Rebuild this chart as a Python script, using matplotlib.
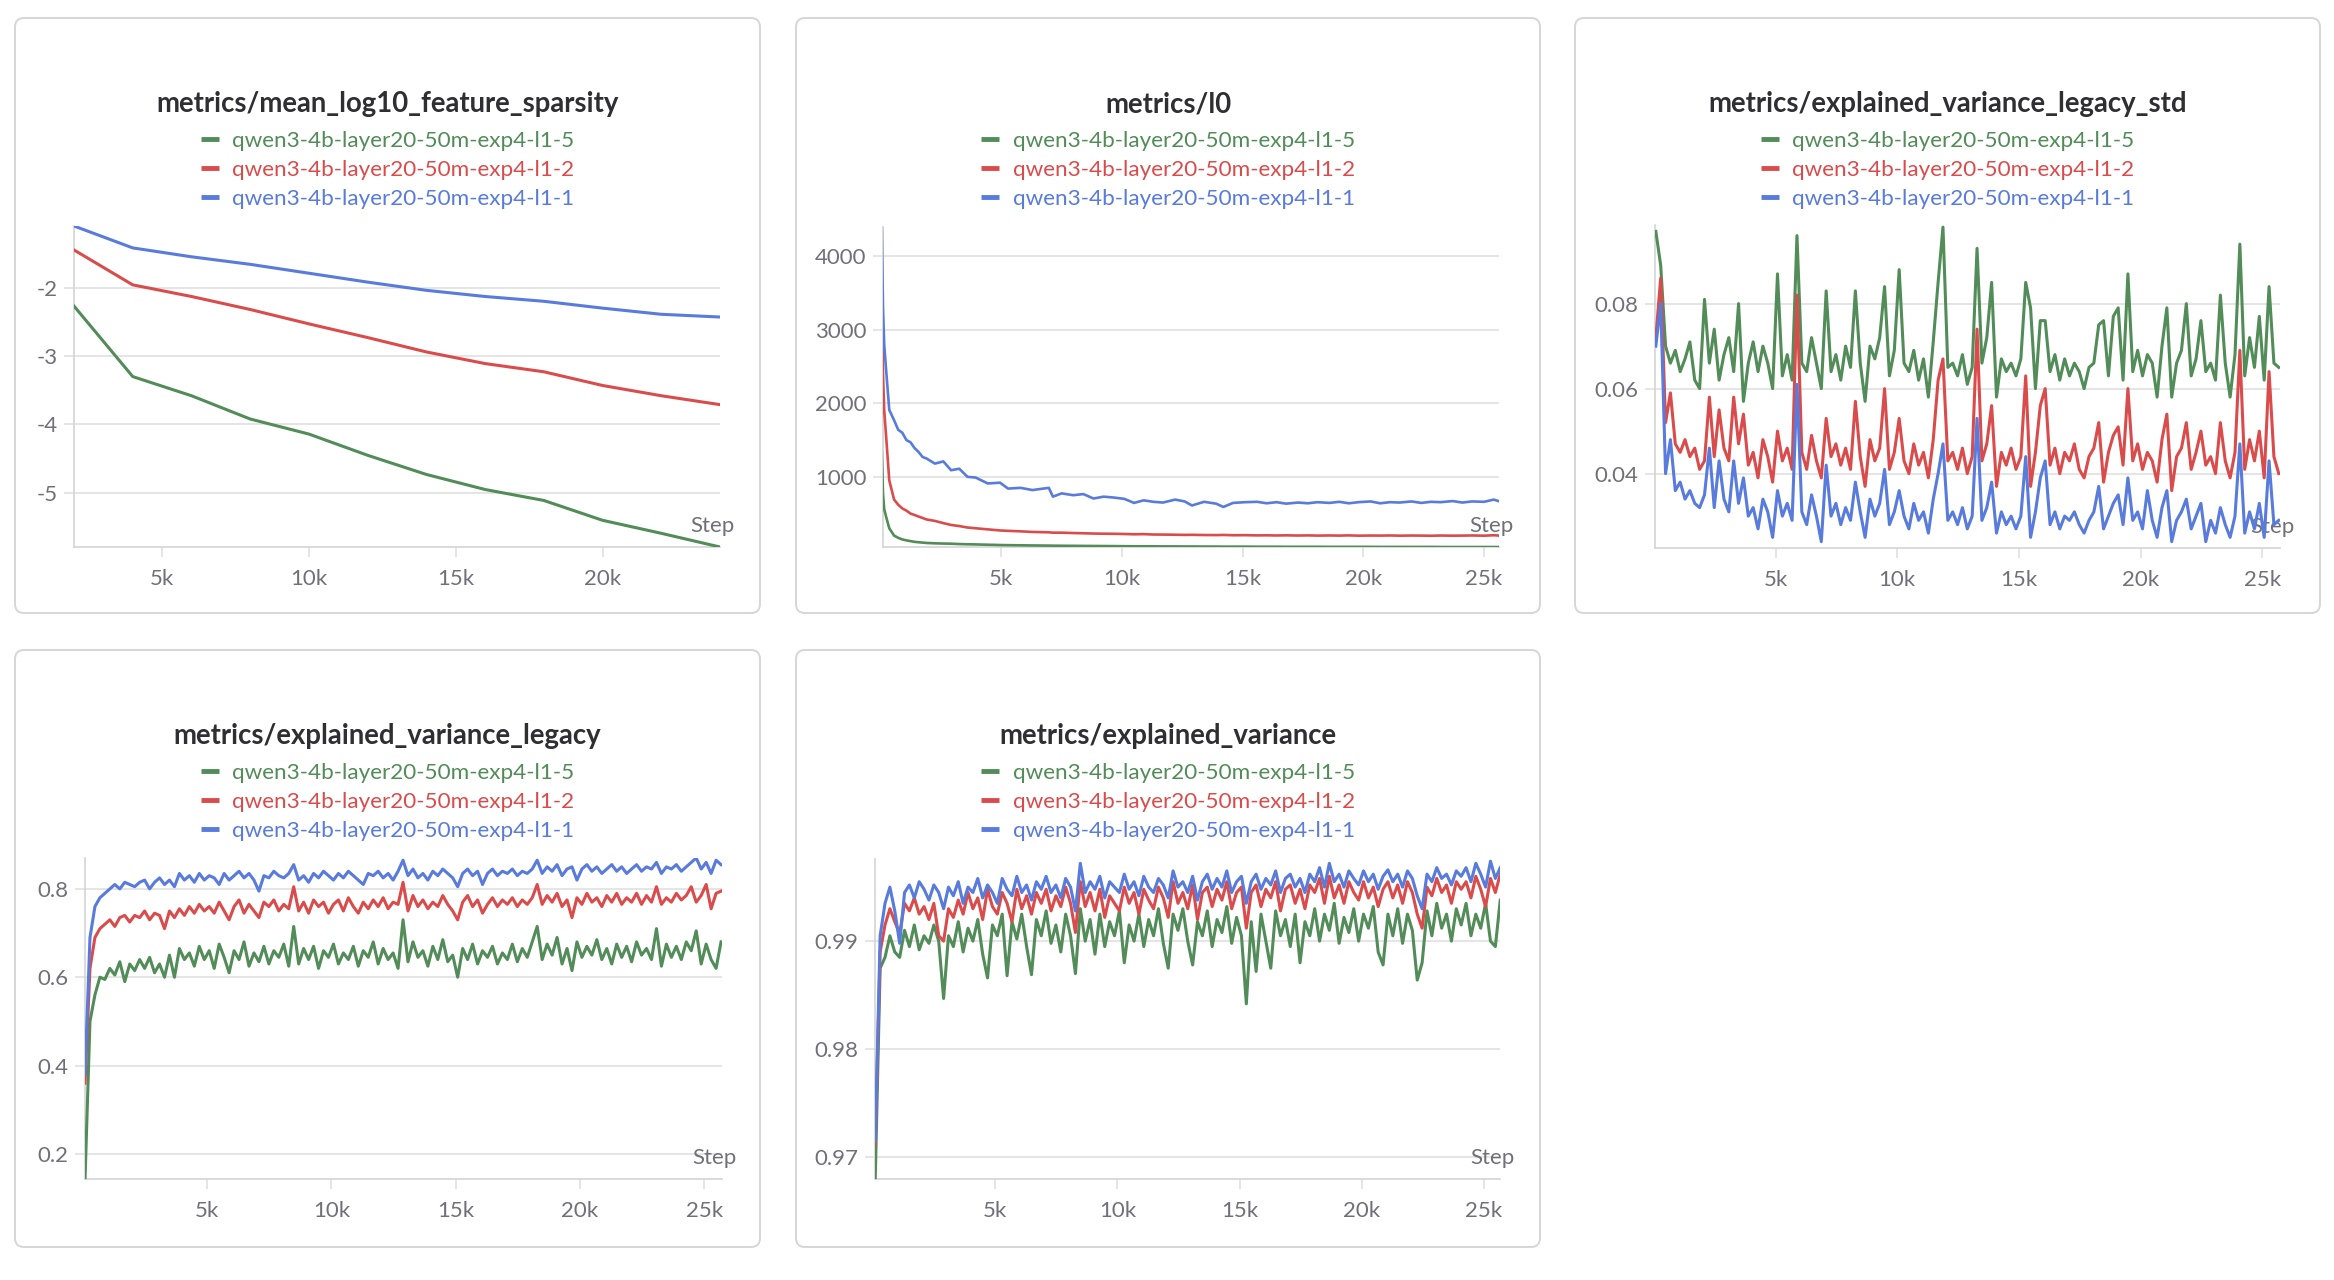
import numpy as np
import matplotlib
matplotlib.use("Agg")
import matplotlib.pyplot as plt
from matplotlib.patches import FancyBboxPatch
from matplotlib.lines import Line2D
from matplotlib.ticker import FixedLocator, FuncFormatter, FormatStrFormatter

plt.rcParams['font.family'] = ['Lato', 'DejaVu Sans']
plt.rcParams['axes.unicode_minus'] = False

W, H = 2334, 1280

# runs (legend order = draw order)
run_names = ["qwen3-4b-layer20-50m-exp4-l1-5",
             "qwen3-4b-layer20-50m-exp4-l1-2",
             "qwen3-4b-layer20-50m-exp4-l1-1"]
run_colors = ["#528c58", "#da4c4c", "#587bdc"]

# --- metrics/mean_log10_feature_sparsity ---
sparsity_steps = [2000, 4000, 6000, 8000, 10000, 12000, 14000, 16000, 18000, 20000, 22000, 24000]
sparsity_l1_5 = [-2.27, -3.30, -3.58, -3.92, -4.14, -4.45, -4.73, -4.95, -5.11, -5.40, -5.59, -5.79]
sparsity_l1_2 = [-1.45, -1.96, -2.13, -2.32, -2.53, -2.73, -2.94, -3.11, -3.23, -3.43, -3.58, -3.71]
sparsity_l1_1 = [-1.10, -1.42, -1.55, -1.66, -1.79, -1.92, -2.04, -2.13, -2.20, -2.30, -2.39, -2.43]

# --- metrics/l0 ---
l0_steps = [50, 100, 150, 230, 360, 560, 730, 900, 1070, 1240, 1410, 1570, 1740, 1900, 2250, 2600,
            2920, 3260, 3600, 3940, 4440, 4950, 5280, 5800, 6290, 6970, 7140, 7500, 7980, 8400,
            8820, 9240, 9660, 10100, 10500, 10900, 11300, 11700, 12200, 12600, 12900, 13400, 13900,
            14200, 14600, 15100, 15600, 16000, 16400, 16800, 17300, 17700, 18100, 18600, 19000,
            19400, 19800, 20300, 20700, 21100, 21500, 22000, 22400, 22800, 23200, 23700, 24100,
            24500, 25000, 25400, 25600]
l0_l1_1 = [4390, 3300, 2800, 2450, 1910, 1770, 1640, 1600, 1500, 1470, 1390, 1340, 1270, 1250, 1180,
           1210, 1090, 1110, 1000, 990, 910, 920, 840, 850, 820, 850, 730, 775, 750, 765, 705, 730,
           718, 700, 645, 680, 660, 650, 690, 665, 610, 660, 635, 590, 645, 655, 660, 640, 655, 635,
           650, 640, 655, 645, 660, 640, 655, 665, 640, 655, 650, 665, 645, 660, 655, 670, 650, 665,
           660, 690, 670]
l0_l1_2 = [3570, 2400, 1900, 1550, 950, 690, 620, 570, 540, 500, 480, 460, 440, 420, 400, 370, 345,
           330, 310, 300, 285, 270, 265, 258, 250, 245, 240, 240, 235, 232, 228, 226, 225, 222, 218,
           220, 215, 214, 212, 210, 211, 208, 207, 209, 205, 206, 203, 204, 202, 204, 201, 203, 200,
           202, 200, 203, 199, 201, 200, 202, 199, 201, 200, 198, 201, 199, 200, 202, 199, 205, 201]
l0_l1_5 = [1350, 770, 560, 455, 300, 200, 170, 148, 135, 125, 115, 110, 105, 100, 95, 92, 90, 85, 82,
           80, 76, 72, 70, 68, 66, 64, 63, 62, 61, 60, 59, 58, 57, 56, 55, 55, 54, 53, 53, 52, 52, 51,
           51, 50, 50, 50, 49, 49, 49, 48, 48, 48, 48, 47, 47, 47, 47, 47, 46, 46, 46, 46, 46, 46, 45,
           45, 45, 45, 45, 45, 45]

# logged every 200 steps for the noisy metrics
noisy_steps = np.arange(80, 25681, 200)

# --- metrics/explained_variance_legacy_std ---
ev_std_l1_5 = [0.097, 0.089, 0.070, 0.066, 0.069, 0.064, 0.067, 0.071, 0.062, 0.060, 0.081, 0.066,
               0.074, 0.062, 0.068, 0.072, 0.064, 0.080, 0.057, 0.066, 0.071, 0.064, 0.070, 0.066,
               0.060, 0.087, 0.063, 0.068, 0.062, 0.096, 0.066, 0.064, 0.072, 0.066, 0.060, 0.083,
               0.064, 0.068, 0.062, 0.070, 0.065, 0.083, 0.066, 0.057, 0.070, 0.067, 0.072, 0.084,
               0.063, 0.069, 0.088, 0.066, 0.064, 0.069, 0.062, 0.067, 0.058, 0.071, 0.085, 0.098,
               0.065, 0.066, 0.063, 0.068, 0.061, 0.065, 0.093, 0.066, 0.072, 0.085, 0.058, 0.067,
               0.064, 0.066, 0.063, 0.067, 0.085, 0.079, 0.060, 0.076, 0.076, 0.064, 0.068, 0.062,
               0.067, 0.063, 0.066, 0.064, 0.060, 0.065, 0.066, 0.075, 0.076, 0.063, 0.077, 0.079,
               0.062, 0.087, 0.064, 0.069, 0.063, 0.068, 0.066, 0.058, 0.070, 0.079, 0.058, 0.066,
               0.069, 0.080, 0.063, 0.067, 0.076, 0.064, 0.066, 0.062, 0.082, 0.066, 0.058, 0.068,
               0.094, 0.063, 0.072, 0.065, 0.077, 0.062, 0.084, 0.066, 0.065]
ev_std_l1_2 = [0.072, 0.086, 0.052, 0.059, 0.047, 0.045, 0.048, 0.044, 0.046, 0.041, 0.043, 0.058,
               0.044, 0.055, 0.046, 0.043, 0.058, 0.047, 0.054, 0.042, 0.045, 0.039, 0.048, 0.044,
               0.038, 0.050, 0.043, 0.046, 0.041, 0.082, 0.045, 0.041, 0.049, 0.043, 0.039, 0.053,
               0.044, 0.047, 0.042, 0.046, 0.041, 0.057, 0.044, 0.037, 0.048, 0.043, 0.046, 0.060,
               0.041, 0.045, 0.053, 0.043, 0.040, 0.047, 0.042, 0.045, 0.039, 0.048, 0.062, 0.067,
               0.043, 0.045, 0.041, 0.046, 0.040, 0.044, 0.074, 0.043, 0.047, 0.056, 0.037, 0.045,
               0.042, 0.046, 0.041, 0.044, 0.063, 0.037, 0.045, 0.056, 0.060, 0.042, 0.046, 0.040,
               0.045, 0.043, 0.047, 0.041, 0.039, 0.044, 0.046, 0.052, 0.038, 0.045, 0.049, 0.051,
               0.042, 0.060, 0.043, 0.047, 0.041, 0.045, 0.043, 0.038, 0.048, 0.054, 0.036, 0.044,
               0.046, 0.052, 0.041, 0.045, 0.050, 0.042, 0.044, 0.040, 0.052, 0.043, 0.039, 0.045,
               0.069, 0.041, 0.048, 0.043, 0.050, 0.039, 0.064, 0.044, 0.040]
ev_std_l1_1 = [0.070, 0.080, 0.040, 0.048, 0.036, 0.038, 0.034, 0.036, 0.033, 0.032, 0.035, 0.046,
               0.032, 0.043, 0.034, 0.031, 0.043, 0.033, 0.039, 0.030, 0.032, 0.027, 0.034, 0.031,
               0.025, 0.036, 0.030, 0.033, 0.029, 0.061, 0.031, 0.028, 0.035, 0.030, 0.024, 0.042,
               0.030, 0.033, 0.028, 0.032, 0.029, 0.038, 0.031, 0.025, 0.034, 0.030, 0.033, 0.041,
               0.028, 0.031, 0.036, 0.030, 0.027, 0.033, 0.029, 0.031, 0.026, 0.034, 0.040, 0.047,
               0.029, 0.031, 0.028, 0.032, 0.027, 0.030, 0.053, 0.029, 0.032, 0.038, 0.026, 0.031,
               0.028, 0.030, 0.027, 0.030, 0.044, 0.025, 0.031, 0.039, 0.043, 0.028, 0.031, 0.027,
               0.030, 0.029, 0.031, 0.028, 0.026, 0.029, 0.031, 0.037, 0.027, 0.030, 0.033, 0.035,
               0.028, 0.039, 0.029, 0.031, 0.027, 0.036, 0.029, 0.025, 0.032, 0.036, 0.024, 0.029,
               0.031, 0.034, 0.027, 0.030, 0.033, 0.024, 0.029, 0.026, 0.032, 0.028, 0.025, 0.030,
               0.047, 0.026, 0.031, 0.027, 0.033, 0.025, 0.043, 0.028, 0.029]

# --- metrics/explained_variance_legacy ---
ev_legacy_l1_5 = [0.14, 0.50, 0.56, 0.60, 0.595, 0.62, 0.605, 0.635, 0.59, 0.63, 0.615, 0.64, 0.62,
                  0.645, 0.61, 0.63, 0.60, 0.65, 0.60, 0.665, 0.64, 0.655, 0.625, 0.67, 0.64, 0.66,
                  0.62, 0.675, 0.645, 0.61, 0.66, 0.64, 0.68, 0.625, 0.655, 0.635, 0.67, 0.63, 0.66,
                  0.645, 0.675, 0.625, 0.715, 0.63, 0.665, 0.64, 0.67, 0.62, 0.66, 0.645, 0.675, 0.63,
                  0.655, 0.64, 0.67, 0.625, 0.66, 0.645, 0.68, 0.63, 0.665, 0.64, 0.655, 0.62, 0.73,
                  0.635, 0.68, 0.645, 0.66, 0.625, 0.67, 0.64, 0.685, 0.635, 0.65, 0.60, 0.665, 0.64,
                  0.675, 0.63, 0.66, 0.645, 0.67, 0.63, 0.655, 0.64, 0.675, 0.635, 0.665, 0.645, 0.68,
                  0.715, 0.64, 0.675, 0.65, 0.69, 0.63, 0.665, 0.615, 0.68, 0.645, 0.67, 0.65, 0.685,
                  0.64, 0.665, 0.63, 0.675, 0.645, 0.67, 0.635, 0.68, 0.65, 0.665, 0.64, 0.71, 0.625,
                  0.675, 0.645, 0.67, 0.64, 0.68, 0.66, 0.705, 0.63, 0.675, 0.64, 0.62, 0.68]
ev_legacy_l1_2 = [0.36, 0.62, 0.69, 0.71, 0.72, 0.73, 0.715, 0.735, 0.74, 0.725, 0.74, 0.735, 0.75,
                  0.73, 0.745, 0.74, 0.71, 0.75, 0.735, 0.755, 0.74, 0.76, 0.745, 0.765, 0.75, 0.76,
                  0.745, 0.77, 0.75, 0.73, 0.76, 0.775, 0.745, 0.765, 0.75, 0.735, 0.77, 0.76, 0.775,
                  0.75, 0.765, 0.755, 0.805, 0.75, 0.77, 0.745, 0.775, 0.76, 0.77, 0.745, 0.765, 0.775,
                  0.75, 0.78, 0.76, 0.745, 0.77, 0.755, 0.775, 0.76, 0.78, 0.755, 0.77, 0.765, 0.815,
                  0.75, 0.785, 0.76, 0.775, 0.755, 0.77, 0.76, 0.785, 0.765, 0.75, 0.73, 0.77, 0.785,
                  0.76, 0.775, 0.745, 0.765, 0.78, 0.76, 0.775, 0.765, 0.78, 0.76, 0.775, 0.765, 0.78,
                  0.81, 0.765, 0.785, 0.77, 0.79, 0.76, 0.775, 0.735, 0.78, 0.765, 0.79, 0.77, 0.78,
                  0.76, 0.785, 0.77, 0.79, 0.765, 0.78, 0.77, 0.79, 0.765, 0.785, 0.77, 0.805, 0.765,
                  0.78, 0.77, 0.79, 0.775, 0.785, 0.805, 0.77, 0.785, 0.81, 0.755, 0.79, 0.795]
ev_legacy_l1_1 = [0.38, 0.69, 0.76, 0.78, 0.79, 0.80, 0.81, 0.80, 0.815, 0.81, 0.805, 0.815, 0.82,
                  0.80, 0.815, 0.825, 0.81, 0.82, 0.805, 0.835, 0.82, 0.83, 0.815, 0.835, 0.82, 0.83,
                  0.825, 0.81, 0.835, 0.82, 0.83, 0.84, 0.825, 0.835, 0.82, 0.795, 0.83, 0.825, 0.84,
                  0.83, 0.825, 0.835, 0.855, 0.82, 0.83, 0.815, 0.835, 0.825, 0.84, 0.83, 0.82, 0.835,
                  0.825, 0.84, 0.83, 0.82, 0.81, 0.835, 0.83, 0.84, 0.825, 0.835, 0.82, 0.84, 0.865,
                  0.83, 0.845, 0.825, 0.835, 0.82, 0.84, 0.83, 0.845, 0.835, 0.825, 0.805, 0.835, 0.845,
                  0.83, 0.84, 0.81, 0.835, 0.845, 0.83, 0.84, 0.835, 0.845, 0.83, 0.84, 0.835, 0.845,
                  0.865, 0.835, 0.85, 0.84, 0.855, 0.83, 0.845, 0.85, 0.82, 0.845, 0.855, 0.84, 0.85,
                  0.835, 0.845, 0.855, 0.84, 0.85, 0.835, 0.845, 0.855, 0.84, 0.85, 0.845, 0.86, 0.835,
                  0.85, 0.845, 0.855, 0.84, 0.85, 0.86, 0.87, 0.845, 0.86, 0.835, 0.865, 0.855]

# --- metrics/explained_variance ---
ev_l1_5 = [0.9680, 0.9875, 0.9885, 0.9905, 0.9890, 0.9885, 0.9910, 0.9895, 0.9915, 0.9892, 0.9905,
           0.9898, 0.9915, 0.9900, 0.9847, 0.9905, 0.9895, 0.9918, 0.9890, 0.9912, 0.9900, 0.9920,
           0.9888, 0.9866, 0.9915, 0.9905, 0.9925, 0.9868, 0.9918, 0.9902, 0.9925, 0.9895, 0.9869,
           0.9920, 0.9905, 0.9928, 0.9898, 0.9915, 0.9890, 0.9925, 0.9905, 0.9870, 0.9930, 0.9900,
           0.9920, 0.9888, 0.9925, 0.9895, 0.9918, 0.9905, 0.9928, 0.9880, 0.9915, 0.9900, 0.9925,
           0.9895, 0.9920, 0.9905, 0.9930, 0.9898, 0.9875, 0.9925, 0.9910, 0.9930, 0.9900, 0.9878,
           0.9918, 0.9905, 0.9928, 0.9895, 0.9920, 0.9908, 0.9932, 0.9898, 0.9922, 0.9905, 0.9842,
           0.9918, 0.9872, 0.9925, 0.9900, 0.9875, 0.9928, 0.9905, 0.9920, 0.9895, 0.9925, 0.9880,
           0.9918, 0.9905, 0.9930, 0.9900, 0.9925, 0.9910, 0.9935, 0.9898, 0.9922, 0.9908, 0.9930,
           0.9900, 0.9925, 0.9912, 0.9932, 0.9890, 0.9878, 0.9925, 0.9905, 0.9930, 0.9898, 0.9925,
           0.9910, 0.9864, 0.9880, 0.9928, 0.9905, 0.9935, 0.9912, 0.9925, 0.9900, 0.9930, 0.9915,
           0.9935, 0.9905, 0.9925, 0.9912, 0.9935, 0.9900, 0.9895, 0.9938]
ev_l1_2 = [0.9712, 0.9890, 0.9915, 0.9930, 0.9918, 0.9907, 0.9935, 0.9928, 0.9940, 0.9925, 0.9932,
           0.9920, 0.9935, 0.9905, 0.9900, 0.9930, 0.9922, 0.9938, 0.9925, 0.9945, 0.9930, 0.9940,
           0.9920, 0.9948, 0.9932, 0.9925, 0.9945, 0.9935, 0.9918, 0.9948, 0.9930, 0.9942, 0.9925,
           0.9945, 0.9935, 0.9948, 0.9928, 0.9942, 0.9932, 0.9950, 0.9935, 0.9908, 0.9955, 0.9932,
           0.9945, 0.9928, 0.9948, 0.9922, 0.9942, 0.9935, 0.9928, 0.9950, 0.9935, 0.9945, 0.9925,
           0.9948, 0.9938, 0.9930, 0.9950, 0.9940, 0.9922, 0.9955, 0.9935, 0.9945, 0.9930, 0.9952,
           0.9920, 0.9945, 0.9950, 0.9932, 0.9948, 0.9938, 0.9955, 0.9930, 0.9945, 0.9950, 0.9912,
           0.9945, 0.9952, 0.9932, 0.9948, 0.9940, 0.9955, 0.9928, 0.9948, 0.9952, 0.9935, 0.9948,
           0.9930, 0.9952, 0.9945, 0.9958, 0.9935, 0.9960, 0.9940, 0.9952, 0.9935, 0.9955, 0.9945,
           0.9938, 0.9955, 0.9940, 0.9950, 0.9932, 0.9948, 0.9955, 0.9940, 0.9952, 0.9935, 0.9955,
           0.9945, 0.9925, 0.9912, 0.9950, 0.9942, 0.9958, 0.9945, 0.9952, 0.9935, 0.9955, 0.9948,
           0.9955, 0.9940, 0.9960, 0.9948, 0.9932, 0.9958, 0.9945, 0.9962]
ev_l1_1 = [0.9715, 0.9905, 0.9935, 0.9950, 0.9928, 0.9898, 0.9945, 0.9952, 0.9940, 0.9955, 0.9948,
           0.9938, 0.9952, 0.9945, 0.9930, 0.9950, 0.9942, 0.9955, 0.9935, 0.9950, 0.9945, 0.9958,
           0.9940, 0.9952, 0.9945, 0.9935, 0.9958, 0.9948, 0.9942, 0.9960, 0.9945, 0.9952, 0.9938,
           0.9955, 0.9948, 0.9960, 0.9945, 0.9952, 0.9940, 0.9958, 0.9950, 0.9928, 0.9972, 0.9945,
           0.9955, 0.9948, 0.9960, 0.9940, 0.9955, 0.9950, 0.9945, 0.9962, 0.9948, 0.9955, 0.9942,
           0.9960, 0.9950, 0.9945, 0.9958, 0.9952, 0.9940, 0.9965, 0.9950, 0.9955, 0.9945, 0.9960,
           0.9938, 0.9955, 0.9962, 0.9948, 0.9958, 0.9950, 0.9965, 0.9945, 0.9955, 0.9960, 0.9935,
           0.9955, 0.9962, 0.9948, 0.9958, 0.9952, 0.9965, 0.9945, 0.9958, 0.9962, 0.9950, 0.9958,
           0.9945, 0.9962, 0.9955, 0.9968, 0.9950, 0.9972, 0.9955, 0.9962, 0.9950, 0.9965, 0.9958,
           0.9952, 0.9965, 0.9955, 0.9962, 0.9948, 0.9960, 0.9966, 0.9955, 0.9962, 0.9950, 0.9965,
           0.9958, 0.9942, 0.9930, 0.9962, 0.9955, 0.9968, 0.9958, 0.9962, 0.9952, 0.9965, 0.9960,
           0.9968, 0.9955, 0.9972, 0.9962, 0.9950, 0.9974, 0.9958, 0.9968]

TITLE_C = "#2e2e33"
TICK_C = "#70707a"
GRID_C = "#dedede"
SPINE_C = "#d4d4d4"


def fig_rect(l, r, t, b):
    return [l / W, 1 - b / H, (r - l) / W, (b - t) / H]


def k_fmt(v, pos):
    return "%dk" % int(round(v / 1000))


# panel boxes (px: left, right, top, bottom)
col_x = [(15, 760), (796, 1540), (1575, 2320)]
row_y = [(18, 613), (650, 1247)]

panels = [
    dict(title="metrics/mean_log10_feature_sparsity", x=sparsity_steps,
         ys=[sparsity_l1_5, sparsity_l1_2, sparsity_l1_1], lw=2.2,
         xlim=(2000, 24000), ylim=(-5.79, -1.10), xticks=[5000, 10000, 15000, 20000],
         yticks=[-5, -4, -3, -2], yfmt="%d", box=(0, 0), rect=(74, 720, 226, 547)),
    dict(title="metrics/l0", x=l0_steps, ys=[l0_l1_5, l0_l1_2, l0_l1_1], lw=1.9,
         xlim=(100, 25620), ylim=(45, 4400), xticks=[5000, 10000, 15000, 20000, 25000],
         yticks=[1000, 2000, 3000, 4000], yfmt="%d", box=(1, 0), rect=(883, 1499, 227, 547)),
    dict(title="metrics/explained_variance_legacy_std", x=noisy_steps,
         ys=[ev_std_l1_5, ev_std_l1_2, ev_std_l1_1], lw=2.2,
         xlim=(46, 25730), ylim=(0.0225, 0.0985), xticks=[5000, 10000, 15000, 20000, 25000],
         yticks=[0.04, 0.06, 0.08], yfmt="%.2f", box=(2, 0), rect=(1655, 2280, 225, 548)),
    dict(title="metrics/explained_variance_legacy", x=noisy_steps,
         ys=[ev_legacy_l1_5, ev_legacy_l1_2, ev_legacy_l1_1], lw=2.2,
         xlim=(80, 25718), ylim=(0.143, 0.87), xticks=[5000, 10000, 15000, 20000, 25000],
         yticks=[0.2, 0.4, 0.6, 0.8], yfmt="%.1f", box=(0, 1), rect=(85, 722, 858, 1179)),
    dict(title="metrics/explained_variance", x=noisy_steps, ys=[ev_l1_5, ev_l1_2, ev_l1_1], lw=2.2,
         xlim=(70, 25670), ylim=(0.968, 0.9976), xticks=[5000, 10000, 15000, 20000, 25000],
         yticks=[0.97, 0.98, 0.99], yfmt="%.2f", box=(1, 1), rect=(875, 1500, 859, 1179)),
]

fig = plt.figure(figsize=(W / 100, H / 100), dpi=100)
fig.patch.set_facecolor("white")

for p in panels:
    ci, ri = p["box"]
    bl, br = col_x[ci]
    bt, bb = row_y[ri]
    box = FancyBboxPatch((bl / 100, (H - bb) / 100), (br - bl) / 100, (bb - bt) / 100,
                         boxstyle="round,pad=0,rounding_size=0.09",
                         transform=fig.dpi_scale_trans, facecolor="white",
                         edgecolor="#d6d6d6", linewidth=1.4, zorder=-5)
    fig.patches.append(box)

    cx = (bl + br) / 2 / W
    title_y = bt + 86
    fig.text(cx, 1 - title_y / H, p["title"], ha="center", va="center",
             fontsize=19.8, fontweight="bold", color=TITLE_C)

    ax = fig.add_axes(fig_rect(*p["rect"]))
    ax.set_facecolor("none")
    for y, c in zip(p["ys"], run_colors):
        ax.plot(p["x"], y, color=c, lw=p["lw"], solid_joinstyle="round", zorder=3)

    ax.set_xlim(*p["xlim"])
    ax.set_ylim(*p["ylim"])
    ax.xaxis.set_major_locator(FixedLocator(p["xticks"]))
    ax.xaxis.set_major_formatter(FuncFormatter(k_fmt))
    ax.yaxis.set_major_locator(FixedLocator(p["yticks"]))
    ax.yaxis.set_major_formatter(FormatStrFormatter(p["yfmt"]))
    ax.grid(axis="y", color=GRID_C, lw=1.1)
    ax.set_axisbelow(True)
    for s in ["top", "right"]:
        ax.spines[s].set_visible(False)
    for s in ["left", "bottom"]:
        ax.spines[s].set_color(SPINE_C)
        ax.spines[s].set_linewidth(1.2)
    ax.tick_params(axis="both", colors=GRID_C, labelcolor=TICK_C, labelsize=16,
                   length=7, width=1.1)
    ax.tick_params(axis="x", pad=9)
    ax.tick_params(axis="y", pad=5)

    ax.annotate("Step", xy=(1, 0), xycoords="axes fraction", xytext=(15, 21),
                textcoords="offset pixels", ha="right", va="center",
                fontsize=16, color=TICK_C, zorder=1)

    handles = [Line2D([], [], color=c, lw=3.5, solid_capstyle="butt") for c in run_colors]
    leg_y = bt + 152
    fig.legend(handles, run_names, loc="center", bbox_to_anchor=(cx, 1 - leg_y / H),
               bbox_transform=fig.transFigure, frameon=False, fontsize=16.2,
               labelcolor=run_colors, handlelength=0.8, handletextpad=0.6,
               labelspacing=0.4, borderpad=0)

fig.savefig("out.png", dpi=100, facecolor=fig.get_facecolor())
